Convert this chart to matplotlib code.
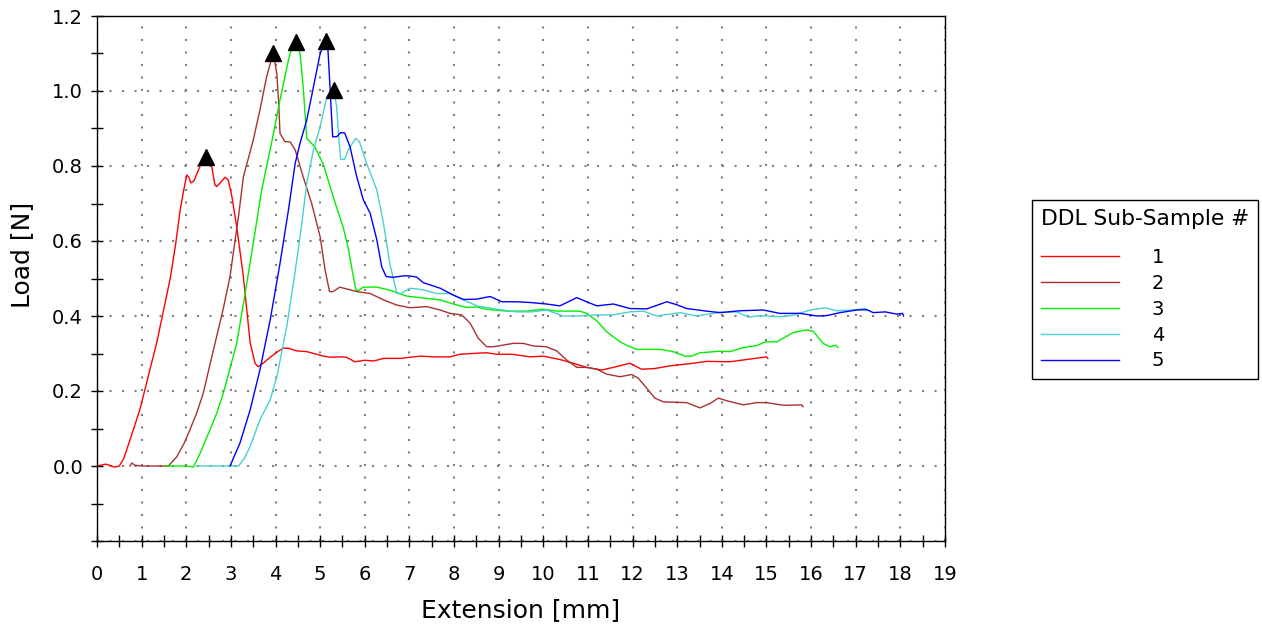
import numpy as np
import matplotlib
matplotlib.use("Agg")
import matplotlib.pyplot as plt
from matplotlib.ticker import MultipleLocator, FuncFormatter

# Sample 1
x1 = [0.0, 0.2, 0.4, 0.5, 0.6, 0.74, 0.96, 1.15, 1.34, 1.5, 1.64, 1.76, 1.86, 1.95, 2.01, 2.06, 2.10, 2.17,
      2.31, 2.44, 2.57, 2.64, 2.68, 2.76, 2.87, 2.94, 3.02, 3.13, 3.28, 3.43, 3.54, 3.61, 3.70, 3.88, 4.05,
      4.17, 4.29, 4.47, 4.70, 5.07, 5.22, 5.44, 5.59, 5.78, 6.0, 6.2, 6.42, 6.8, 7.24, 7.55, 7.91, 8.13, 8.4,
      8.73, 8.96, 9.3, 9.70, 10.0, 10.37, 10.67, 10.97, 11.31, 11.57, 11.87, 11.94, 12.2, 12.5, 12.84, 13.36,
      13.66, 14.18, 14.56, 15.0, 15.03]
y1 = [0.0, 0.005, -0.003, 0.0, 0.02, 0.07, 0.15, 0.24, 0.33, 0.42, 0.50, 0.59, 0.68, 0.74, 0.776, 0.77, 0.755,
      0.76, 0.80, 0.823, 0.80, 0.75, 0.745, 0.755, 0.77, 0.763, 0.72, 0.638, 0.505, 0.33, 0.274, 0.265, 0.272,
      0.29, 0.305, 0.314, 0.314, 0.307, 0.305, 0.293, 0.29, 0.291, 0.29, 0.278, 0.282, 0.28, 0.287, 0.287,
      0.293, 0.291, 0.291, 0.298, 0.30, 0.302, 0.298, 0.298, 0.291, 0.293, 0.284, 0.274, 0.263, 0.256, 0.263,
      0.272, 0.274, 0.258, 0.26, 0.267, 0.274, 0.279, 0.278, 0.284, 0.291, 0.287]

# Sample 2
x2 = [0.74, 0.78, 0.85, 1.0, 1.3, 1.6, 1.79, 1.95, 2.08, 2.23, 2.38, 2.53, 2.68, 2.83, 2.98, 3.08, 3.17, 3.28,
      3.50, 3.65, 3.80, 3.95, 4.03, 4.07, 4.10, 4.21, 4.33, 4.44, 4.62, 4.81, 5.0, 5.11, 5.21, 5.29, 5.44, 5.82,
      6.12, 6.42, 6.72, 7.01, 7.39, 7.69, 7.91, 8.17, 8.36, 8.54, 8.73, 8.88, 9.33, 9.55, 9.78, 10.07, 10.30,
      10.52, 10.75, 10.97, 11.2, 11.42, 11.72, 11.98, 12.13, 12.32, 12.5, 12.69, 13.21, 13.51, 13.74, 13.92,
      14.11, 14.48, 14.78, 15.0, 15.38, 15.79, 15.82]
y2 = [0.0, 0.008, 0.002, 0.0, 0.0, 0.0, 0.025, 0.06, 0.096, 0.14, 0.194, 0.27, 0.345, 0.42, 0.505, 0.59, 0.665,
      0.771, 0.869, 0.949, 1.038, 1.102, 1.045, 0.97, 0.887, 0.865, 0.864, 0.843, 0.771, 0.70, 0.611, 0.523,
      0.465, 0.465, 0.477, 0.465, 0.46, 0.443, 0.429, 0.422, 0.425, 0.416, 0.407, 0.403, 0.381, 0.341, 0.318,
      0.318, 0.327, 0.327, 0.32, 0.318, 0.307, 0.283, 0.263, 0.263, 0.258, 0.245, 0.238, 0.244, 0.234, 0.207,
      0.181, 0.171, 0.169, 0.155, 0.167, 0.181, 0.174, 0.163, 0.169, 0.169, 0.162, 0.163, 0.158]

# Sample 3
x3 = [1.52, 1.8, 2.0, 2.16, 2.31, 2.53, 2.68, 2.83, 3.13, 3.32, 3.50, 3.69, 3.91, 4.10, 4.29, 4.36, 4.46, 4.55,
      4.62, 4.70, 4.88, 5.07, 5.30, 5.52, 5.63, 5.72, 5.80, 5.86, 5.97, 6.27, 6.56, 6.94, 7.16, 7.69, 7.98,
      8.28, 8.51, 8.73, 9.18, 9.6, 10.0, 10.3, 10.82, 10.97, 11.2, 11.42, 11.72, 11.87, 12.09, 12.61, 12.91,
      13.17, 13.32, 13.51, 13.96, 14.18, 14.48, 14.78, 14.97, 15.23, 15.6, 15.9, 16.05, 16.27, 16.42, 16.56, 16.6]
y3 = [0.0, 0.0, 0.0, -0.003, 0.034, 0.096, 0.14, 0.194, 0.327, 0.46, 0.594, 0.736, 0.861, 0.976, 1.083, 1.114,
      1.13, 1.10, 1.01, 0.874, 0.851, 0.805, 0.715, 0.635, 0.58, 0.52, 0.469, 0.468, 0.477, 0.477, 0.469, 0.453,
      0.45, 0.443, 0.432, 0.423, 0.424, 0.418, 0.413, 0.413, 0.418, 0.413, 0.413, 0.407, 0.387, 0.358, 0.331,
      0.322, 0.311, 0.311, 0.305, 0.293, 0.293, 0.302, 0.306, 0.305, 0.316, 0.321, 0.331, 0.331, 0.356, 0.363,
      0.359, 0.327, 0.318, 0.322, 0.316]

# Sample 4
x4 = [2.23, 2.6, 3.0, 3.17, 3.30, 3.43, 3.65, 3.88, 4.03, 4.25, 4.40, 4.55, 4.70, 4.85, 5.0, 5.15, 5.30, 5.37,
      5.42, 5.46, 5.55, 5.63, 5.80, 5.88, 6.04, 6.27, 6.42, 6.56, 6.72, 6.82, 7.01, 7.31, 7.61, 7.9, 8.21, 8.51,
      8.96, 9.40, 9.75, 10.07, 10.45, 10.75, 11.2, 11.57, 11.94, 12.24, 12.54, 13.06, 13.44, 13.96, 14.33,
      14.6, 14.85, 15.30, 15.6, 15.98, 16.31, 16.57, 16.95, 17.21, 17.25]
y4 = [0.0, 0.0, 0.0, 0.0, 0.02, 0.052, 0.123, 0.176, 0.238, 0.371, 0.487, 0.611, 0.754, 0.843, 0.905, 0.985,
      1.004, 0.958, 0.87, 0.818, 0.818, 0.843, 0.874, 0.865, 0.807, 0.736, 0.647, 0.54, 0.46, 0.46, 0.474, 0.47,
      0.46, 0.46, 0.443, 0.427, 0.418, 0.411, 0.411, 0.416, 0.40, 0.40, 0.403, 0.403, 0.411, 0.413, 0.40, 0.409,
      0.40, 0.41, 0.411, 0.397, 0.401, 0.398, 0.402, 0.416, 0.422, 0.414, 0.416, 0.42, 0.414]

# Sample 5
x5 = [2.98, 3.2, 3.43, 3.65, 3.88, 4.10, 4.29, 4.44, 4.55, 4.70, 4.85, 5.0, 5.07, 5.12, 5.17, 5.22, 5.28, 5.37,
      5.46, 5.55, 5.67, 5.82, 5.97, 6.12, 6.27, 6.38, 6.48, 6.64, 6.86, 6.98, 7.16, 7.31, 7.69, 7.98, 8.21,
      8.51, 8.81, 9.07, 9.4, 9.70, 10.07, 10.37, 10.75, 10.97, 11.2, 11.57, 11.94, 12.32, 12.77, 12.99, 13.21,
      13.66, 13.96, 14.41, 14.93, 15.30, 15.75, 16.13, 16.35, 16.65, 17.02, 17.25, 17.39, 17.66, 17.92, 18.05,
      18.07]
y5 = [0.0, 0.06, 0.149, 0.256, 0.389, 0.54, 0.683, 0.807, 0.861, 0.923, 1.011, 1.10, 1.12, 1.134, 1.12, 1.011,
      0.878, 0.878, 0.889, 0.888, 0.851, 0.771, 0.709, 0.674, 0.603, 0.531, 0.505, 0.503, 0.507, 0.507, 0.504,
      0.489, 0.474, 0.456, 0.444, 0.445, 0.452, 0.438, 0.438, 0.436, 0.432, 0.427, 0.449, 0.438, 0.427, 0.432,
      0.42, 0.419, 0.438, 0.43, 0.42, 0.413, 0.409, 0.414, 0.416, 0.407, 0.407, 0.40, 0.401, 0.409, 0.416,
      0.417, 0.409, 0.411, 0.405, 0.407, 0.40]

labels = ["1", "2", "3", "4", "5"]
colors = ["#ff0000", "#a83232", "#00ee00", "#48d1cc", "#0000ff"]
series = [(x1, y1), (x2, y2), (x3, y3), (x4, y4), (x5, y5)]

plt.rcParams["font.family"] = "DejaVu Sans"

fig = plt.figure(figsize=(12.62, 6.29), dpi=100)
ax = fig.add_axes([97 / 1262, 1 - 541 / 629, 848 / 1262, 525 / 629])

for (xs, ys), c, lab in zip(series, colors, labels):
    ax.plot(xs, ys, color=c, lw=1.0, label=lab)

# peak markers
for xs, ys in series:
    i = int(np.argmax(ys))
    ax.plot(xs[i], ys[i], marker="^", color="black", ms=12, ls="none", zorder=5)

ax.set_xlim(0, 19)
ax.set_ylim(-0.2, 1.2)
ax.xaxis.set_major_locator(MultipleLocator(1))
ax.xaxis.set_minor_locator(MultipleLocator(0.5))
ax.yaxis.set_major_locator(MultipleLocator(0.2))
ax.yaxis.set_minor_locator(MultipleLocator(0.1))
ax.yaxis.set_major_formatter(FuncFormatter(lambda v, p: "" if v < -0.05 else f"{abs(v) if abs(v) < 1e-9 else v:.1f}"))

ax.tick_params(which="both", direction="inout", length=8, width=1, colors="black")
ax.tick_params(axis="x", which="major", labelsize=14, pad=13)
ax.tick_params(axis="y", which="major", labelsize=14, pad=6)

ax.grid(True, which="major", color="#808080", lw=1.5, linestyle=(0, (1, 5)))
for s in ax.spines.values():
    s.set_color("black")
    s.set_linewidth(1.0)

ax.set_xlabel("Extension [mm]", fontsize=18, va="center")
ax.xaxis.set_label_coords(0.5, -0.131)
ax.set_ylabel("Load [N]", fontsize=18, va="center")
ax.yaxis.set_label_coords(-0.088, 0.545)

leg = ax.legend(title="DDL Sub-Sample #", loc="upper left",
                bbox_to_anchor=(1032 / 1262, 1 - 200 / 629), bbox_transform=fig.transFigure,
                fontsize=14, title_fontsize=15.7, alignment="left", frameon=True, fancybox=False,
                edgecolor="black", framealpha=1, handlelength=4.0, handletextpad=1.7,
                labelspacing=0.35, borderpad=0.45, borderaxespad=0)
leg.get_frame().set_linewidth(1.0)
leg._legend_box.sep = 14

fig.savefig("out.png", dpi=100)
